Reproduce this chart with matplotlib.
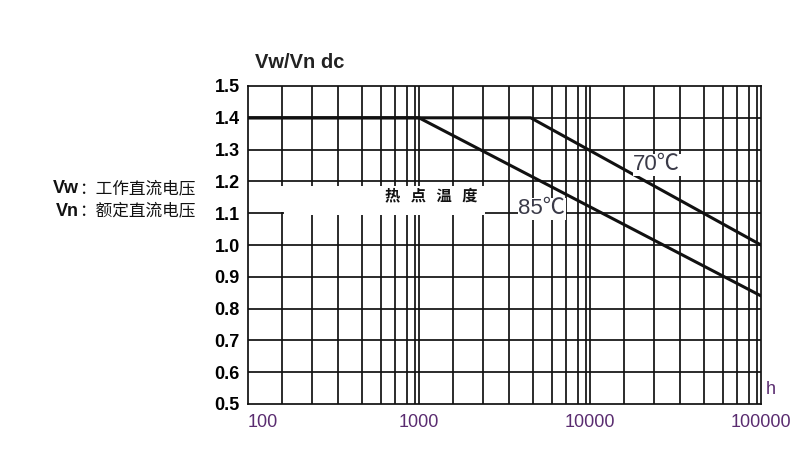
import matplotlib
matplotlib.use("Agg")
import matplotlib.pyplot as plt
import numpy as np

# ---- data ----
hours_70 = [100, 4500, 100000]
ratio_70 = [1.4, 1.4, 1.0]
hours_85 = [100, 1000, 100000]
ratio_85 = [1.4, 1.4, 0.84]

y_ticks = [0.5, 0.6, 0.7, 0.8, 0.9, 1.0, 1.1, 1.2, 1.3, 1.4, 1.5]
y_labels = ["0.5", "0.6", "0.7", "0.8", "0.9", "1.0", "1.1", "1.2", "1.3", "1.4", "1.5"]
x_ticks = [100, 1000, 10000, 100000]
x_labels = ["100", "1000", "10000", "100000"]

# fractional positions (within each decade) of the chart's printed grid lines
grid_frac = [0.196, 0.372, 0.524, 0.664, 0.779, 0.861, 0.928, 0.975]

LAT = ["Liberation Sans", "Noto Sans CJK SC", "DejaVu Sans"]
CJK = ["Noto Sans CJK SC", "DejaVu Sans"]
PURPLE = "#5a2c70"
LINEC = "#111111"

fig = plt.figure(figsize=(8.08, 4.5), dpi=100)
W, H = 808, 450
ax = fig.add_axes([248 / W, 1 - 404 / H, (761 - 248) / W, (404 - 86) / H])
ax.set_xscale("log")
ax.set_xlim(100, 100000)
ax.set_ylim(0.5, 1.5)

# grid
vgrid = []
for d in (2, 3, 4):
    for f in grid_frac:
        vgrid.append(10 ** (d + f))
    if d > 2:
        vgrid.append(10 ** d)
for xv in vgrid:
    ax.axvline(xv, color=LINEC, lw=1.25, zorder=1)
for yv in y_ticks[1:-1]:
    ax.axhline(yv, color=LINEC, lw=1.25, zorder=1)

# white band behind the "热点温度" caption
ax.fill([152, 2590, 2590, 152], [1.104, 1.104, 1.187, 1.187],
        color="white", lw=0, zorder=2)
ax.fill([162, 2440, 2440, 162], [1.094, 1.094, 1.106, 1.106],
        color="white", lw=0, zorder=2)

# curves
ax.plot(hours_70, ratio_70, color=LINEC, lw=2.2, zorder=3, solid_joinstyle="miter")
ax.plot(hours_85, ratio_85, color=LINEC, lw=2.2, zorder=3, solid_joinstyle="miter")

for s in ax.spines.values():
    s.set_color(LINEC)
    s.set_linewidth(1.25)

ax.set_yticks(y_ticks)
ax.set_yticklabels(y_labels, fontfamily=LAT, fontweight="bold", fontsize=13)
ax.set_xticks(x_ticks)
ax.set_xticklabels(x_labels, fontfamily=LAT, fontsize=13, color=PURPLE)
ax.xaxis.set_minor_locator(matplotlib.ticker.NullLocator())
ax.tick_params(axis="y", length=0, pad=6)
ax.tick_params(axis="x", length=0, pad=7)
for lab in ax.get_xticklabels():
    lab.set_ha("left" if lab.get_text() == "100" else "center")

# curve labels
ax.text(0.797, 0.752, "70℃", transform=ax.transAxes, fontsize=16,
        family=LAT, color="#3a3a48", ha="center", va="center", zorder=4,
        bbox=dict(facecolor="white", edgecolor="none", pad=0.5))
ax.text(0.573, 0.614, "85℃", transform=ax.transAxes, fontsize=16,
        family=LAT, color="#3a3a48", ha="center", va="center", zorder=4,
        bbox=dict(facecolor="white", edgecolor="none", pad=0.5))
ax.text(0.357, 0.655, "热   点   温   度", transform=ax.transAxes, fontsize=11,
        family=CJK, fontweight="bold", color="#111111", ha="center",
        va="center", zorder=4)

# axis titles
fig.text(255 / W, 1 - 63 / H, "Vw/Vn dc", fontsize=14.5, fontweight="bold",
         family=LAT, ha="left", va="center", color="#222222")
fig.text(766 / W, 1 - 390 / H, "h", fontsize=13, family=LAT, color=PURPLE,
         ha="left", va="center")

# side notes
for yy, sym, txt in [(189, "Vw", "：工作直流电压"), (211, "Vn", "：额定直流电压")]:
    fig.text(79 / W, 1 - yy / H, sym, fontsize=13, fontweight="bold",
             family=LAT, ha="right", va="center", color="#111111")
    fig.text(79 / W, 1 - yy / H, txt, fontsize=12, family=CJK,
             ha="left", va="center", color="#111111")

fig.savefig("out.png", dpi=100, facecolor="white")
